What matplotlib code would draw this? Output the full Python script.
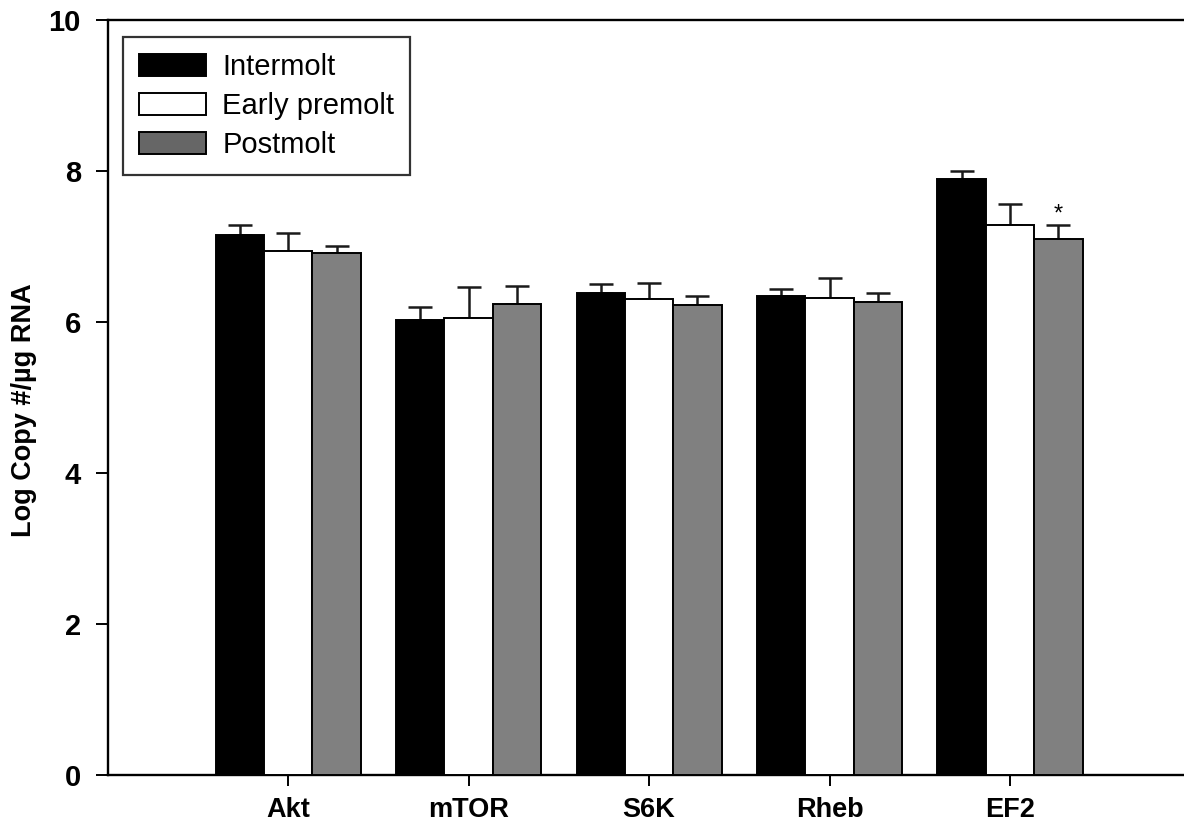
import numpy as np
import matplotlib
matplotlib.use("Agg")
import matplotlib.pyplot as plt
from matplotlib.patches import Patch

plt.rcParams['font.family'] = ['Liberation Sans', 'DejaVu Sans']

# gene expression by molt stage, mean + SEM (upper only)
genes = ["Akt", "mTOR", "S6K", "Rheb", "EF2"]
stages = ["Intermolt", "Early premolt", "Postmolt"]
intermolt = [7.15, 6.03, 6.39, 6.34, 7.89]
intermolt_err = [0.13, 0.17, 0.11, 0.10, 0.11]
premolt = [6.94, 6.05, 6.30, 6.32, 7.29]
premolt_err = [0.24, 0.42, 0.21, 0.26, 0.27]
postmolt = [6.91, 6.24, 6.22, 6.26, 7.10]
postmolt_err = [0.10, 0.24, 0.12, 0.13, 0.18]
yticks = [0, 2, 4, 6, 8, 10]

means = [intermolt, premolt, postmolt]
errs = [intermolt_err, premolt_err, postmolt_err]
fills = ["black", "white", "#808080"]
legend_fills = ["black", "white", "#666666"]

fig = plt.figure(figsize=(11.84, 8.25), dpi=100)
ax = fig.add_axes([107.7/1184, 1-775/825, (1190.5-107.7)/1184, 755/825])

x = np.arange(len(genes))
w = 0.268
for k in range(3):
    pos = x + (k-1)*w
    ax.bar(pos, means[k], width=w, color=fills[k], edgecolor="black",
           linewidth=1.4, zorder=3)
    ax.errorbar(pos, means[k], yerr=[np.zeros(len(genes)), errs[k]],
                fmt="none", ecolor="#1a1a1a", elinewidth=1.8, capsize=8.3,
                capthick=1.8, zorder=2)

# significance mark on EF2 postmolt
ax.text(x[4] + w, postmolt[4] + postmolt_err[4] + 0.14, "*",
        ha="center", va="center", fontsize=17)

ax.set_xlim(-1, 5)
ax.set_ylim(0, 10)
ax.set_xticks(x)
ax.set_xticklabels(genes, fontsize=19.5, fontweight="bold")
ax.set_yticks(yticks)
ax.set_yticklabels([str(t) for t in yticks], fontsize=21, fontweight="bold")
ax.tick_params(axis="y", length=8.4, width=1.4, pad=11, direction="out")
ax.tick_params(axis="x", length=8, width=1.4, pad=8, direction="out")
for s in ["left", "bottom", "top", "right"]:
    ax.spines[s].set_linewidth(1.7)
ax.spines["right"].set_visible(False)

fig.text(24/1184, 1-410/825, "Log Copy #/\u00b5g RNA", rotation=90,
         ha="center", va="center", fontsize=19.5, fontweight="bold")

handles = [Patch(facecolor=c, edgecolor="black", linewidth=1.4) for c in legend_fills]
leg = ax.legend(handles, stages, loc="upper left", bbox_to_anchor=(0.0141, 0.9775),
                fontsize=21, frameon=True, fancybox=False, handlelength=2.3,
                handleheight=0.8, handletextpad=0.55, labelspacing=0.38,
                borderpad=0.55, borderaxespad=0)
leg.get_frame().set_edgecolor("black")
leg.get_frame().set_linewidth(1.6)

fig.savefig("out.png", dpi=100)
